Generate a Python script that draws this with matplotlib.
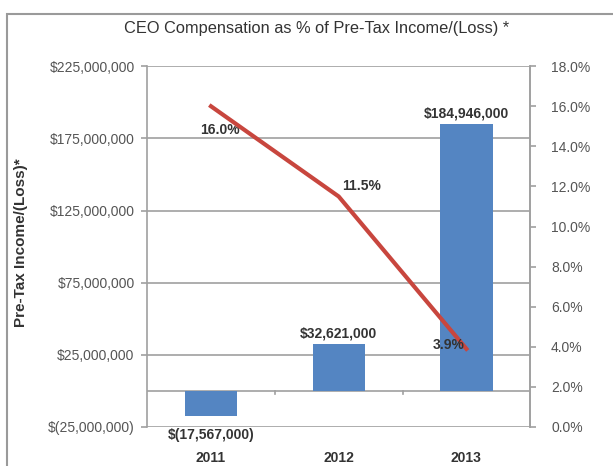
import matplotlib.pyplot as plt
from matplotlib.patches import Rectangle
from matplotlib.ticker import FuncFormatter

plt.rcParams['font.family'] = ['Liberation Sans', 'DejaVu Sans']

years = ['2011', '2012', '2013']
pretax_income = [-17567000, 32621000, 184946000]
ceo_pct = [16.0, 11.5, 3.9]
bar_labels = ['$(17,567,000)', '$32,621,000', '$184,946,000']
pct_labels = ['16.0%', '11.5%', '3.9%']

grey = '#a0a0a0'
text_col = '#333333'
tick_col = '#555555'

fig = plt.figure(figsize=(6.13, 4.66), dpi=100)
ax = fig.add_axes([0.240, 0.0837, 0.625, 0.7743])

# outer frame around the chart
fig.patches.append(Rectangle((7 / 613, -0.1), 1.2, 1 - 14 / 466 + 0.1,
                             transform=fig.transFigure, fill=False,
                             edgecolor='#9a9a9a', linewidth=1.5))

x = range(len(years))
ax.bar(x, pretax_income, width=0.41, color='#5485C2', zorder=3)
ax.set_xlim(-0.5, 2.5)
ax.set_ylim(-25e6, 225e6)
ax.set_yticks([-25e6, 25e6, 75e6, 125e6, 175e6, 225e6])


def money(v, pos):
    if v < 0:
        return '$({:,.0f})'.format(-v)
    return '${:,.0f}'.format(v)


ax.yaxis.set_major_formatter(FuncFormatter(money))
ax.grid(axis='y', color=grey, linewidth=1.2, zorder=0)
ax.axhline(0, color=grey, linewidth=1.2, zorder=2)
for b in [0.5, 1.5]:
    ax.plot([b, b], [0, -2e6], color=grey, linewidth=1.2, zorder=2)

ax.set_xticks(list(x))
ax.set_xticklabels(years, fontweight='bold', fontsize=10, color=text_col)
ax.tick_params(axis='x', length=0, pad=17)
ax.tick_params(axis='y', length=4, color=grey, width=1.2, labelsize=10,
               labelcolor=tick_col, pad=5)
for s in ['top', 'bottom']:
    ax.spines[s].set_visible(False)
for s in ['left', 'right']:
    ax.spines[s].set_color(grey)
    ax.spines[s].set_linewidth(1.2)
ax.set_ylabel('Pre-Tax Income/(Loss)*', fontweight='bold', fontsize=11,
              color=text_col)
ax.yaxis.set_label_coords(-0.310, 0.512)

# bar value labels
ax.text(0, -26e6, bar_labels[0], ha='center', va='top',
        fontweight='bold', fontsize=10, color=text_col, zorder=5)
for i in [1, 2]:
    ax.text(i, pretax_income[i] + 2.5e6, bar_labels[i], ha='center',
            va='bottom', fontweight='bold', fontsize=10, color=text_col, zorder=5)

ax2 = ax.twinx()
ax2.plot(list(x), ceo_pct, color='#C8463E', linewidth=3, zorder=4)
ax2.set_ylim(0, 18)
ax2.set_yticks([i * 2 for i in range(10)])
ax2.yaxis.set_major_formatter(FuncFormatter(lambda v, p: '{:.1f}%'.format(v)))
ax2.tick_params(axis='y', length=4, color=grey, width=1.2, labelsize=10,
                labelcolor=tick_col, pad=11)
for s in ['top', 'bottom', 'left']:
    ax2.spines[s].set_visible(False)
ax2.spines['right'].set_color(grey)
ax2.spines['right'].set_linewidth(1.2)

ax2.text(0.07, 14.8, pct_labels[0], ha='center', va='center',
         fontweight='bold', fontsize=10, color=text_col)
ax2.text(1.18, 12.0, pct_labels[1], ha='center', va='center',
         fontweight='bold', fontsize=10, color=text_col)
ax2.text(1.86, 4.1, pct_labels[2], ha='center', va='center',
         fontweight='bold', fontsize=10, color=text_col, zorder=6)

fig.text(0.516, 1 - 29 / 466, 'CEO Compensation as % of Pre-Tax Income/(Loss) *',
         ha='center', va='center', fontsize=11.8, color=text_col)

fig.savefig('out.png', dpi=100)
